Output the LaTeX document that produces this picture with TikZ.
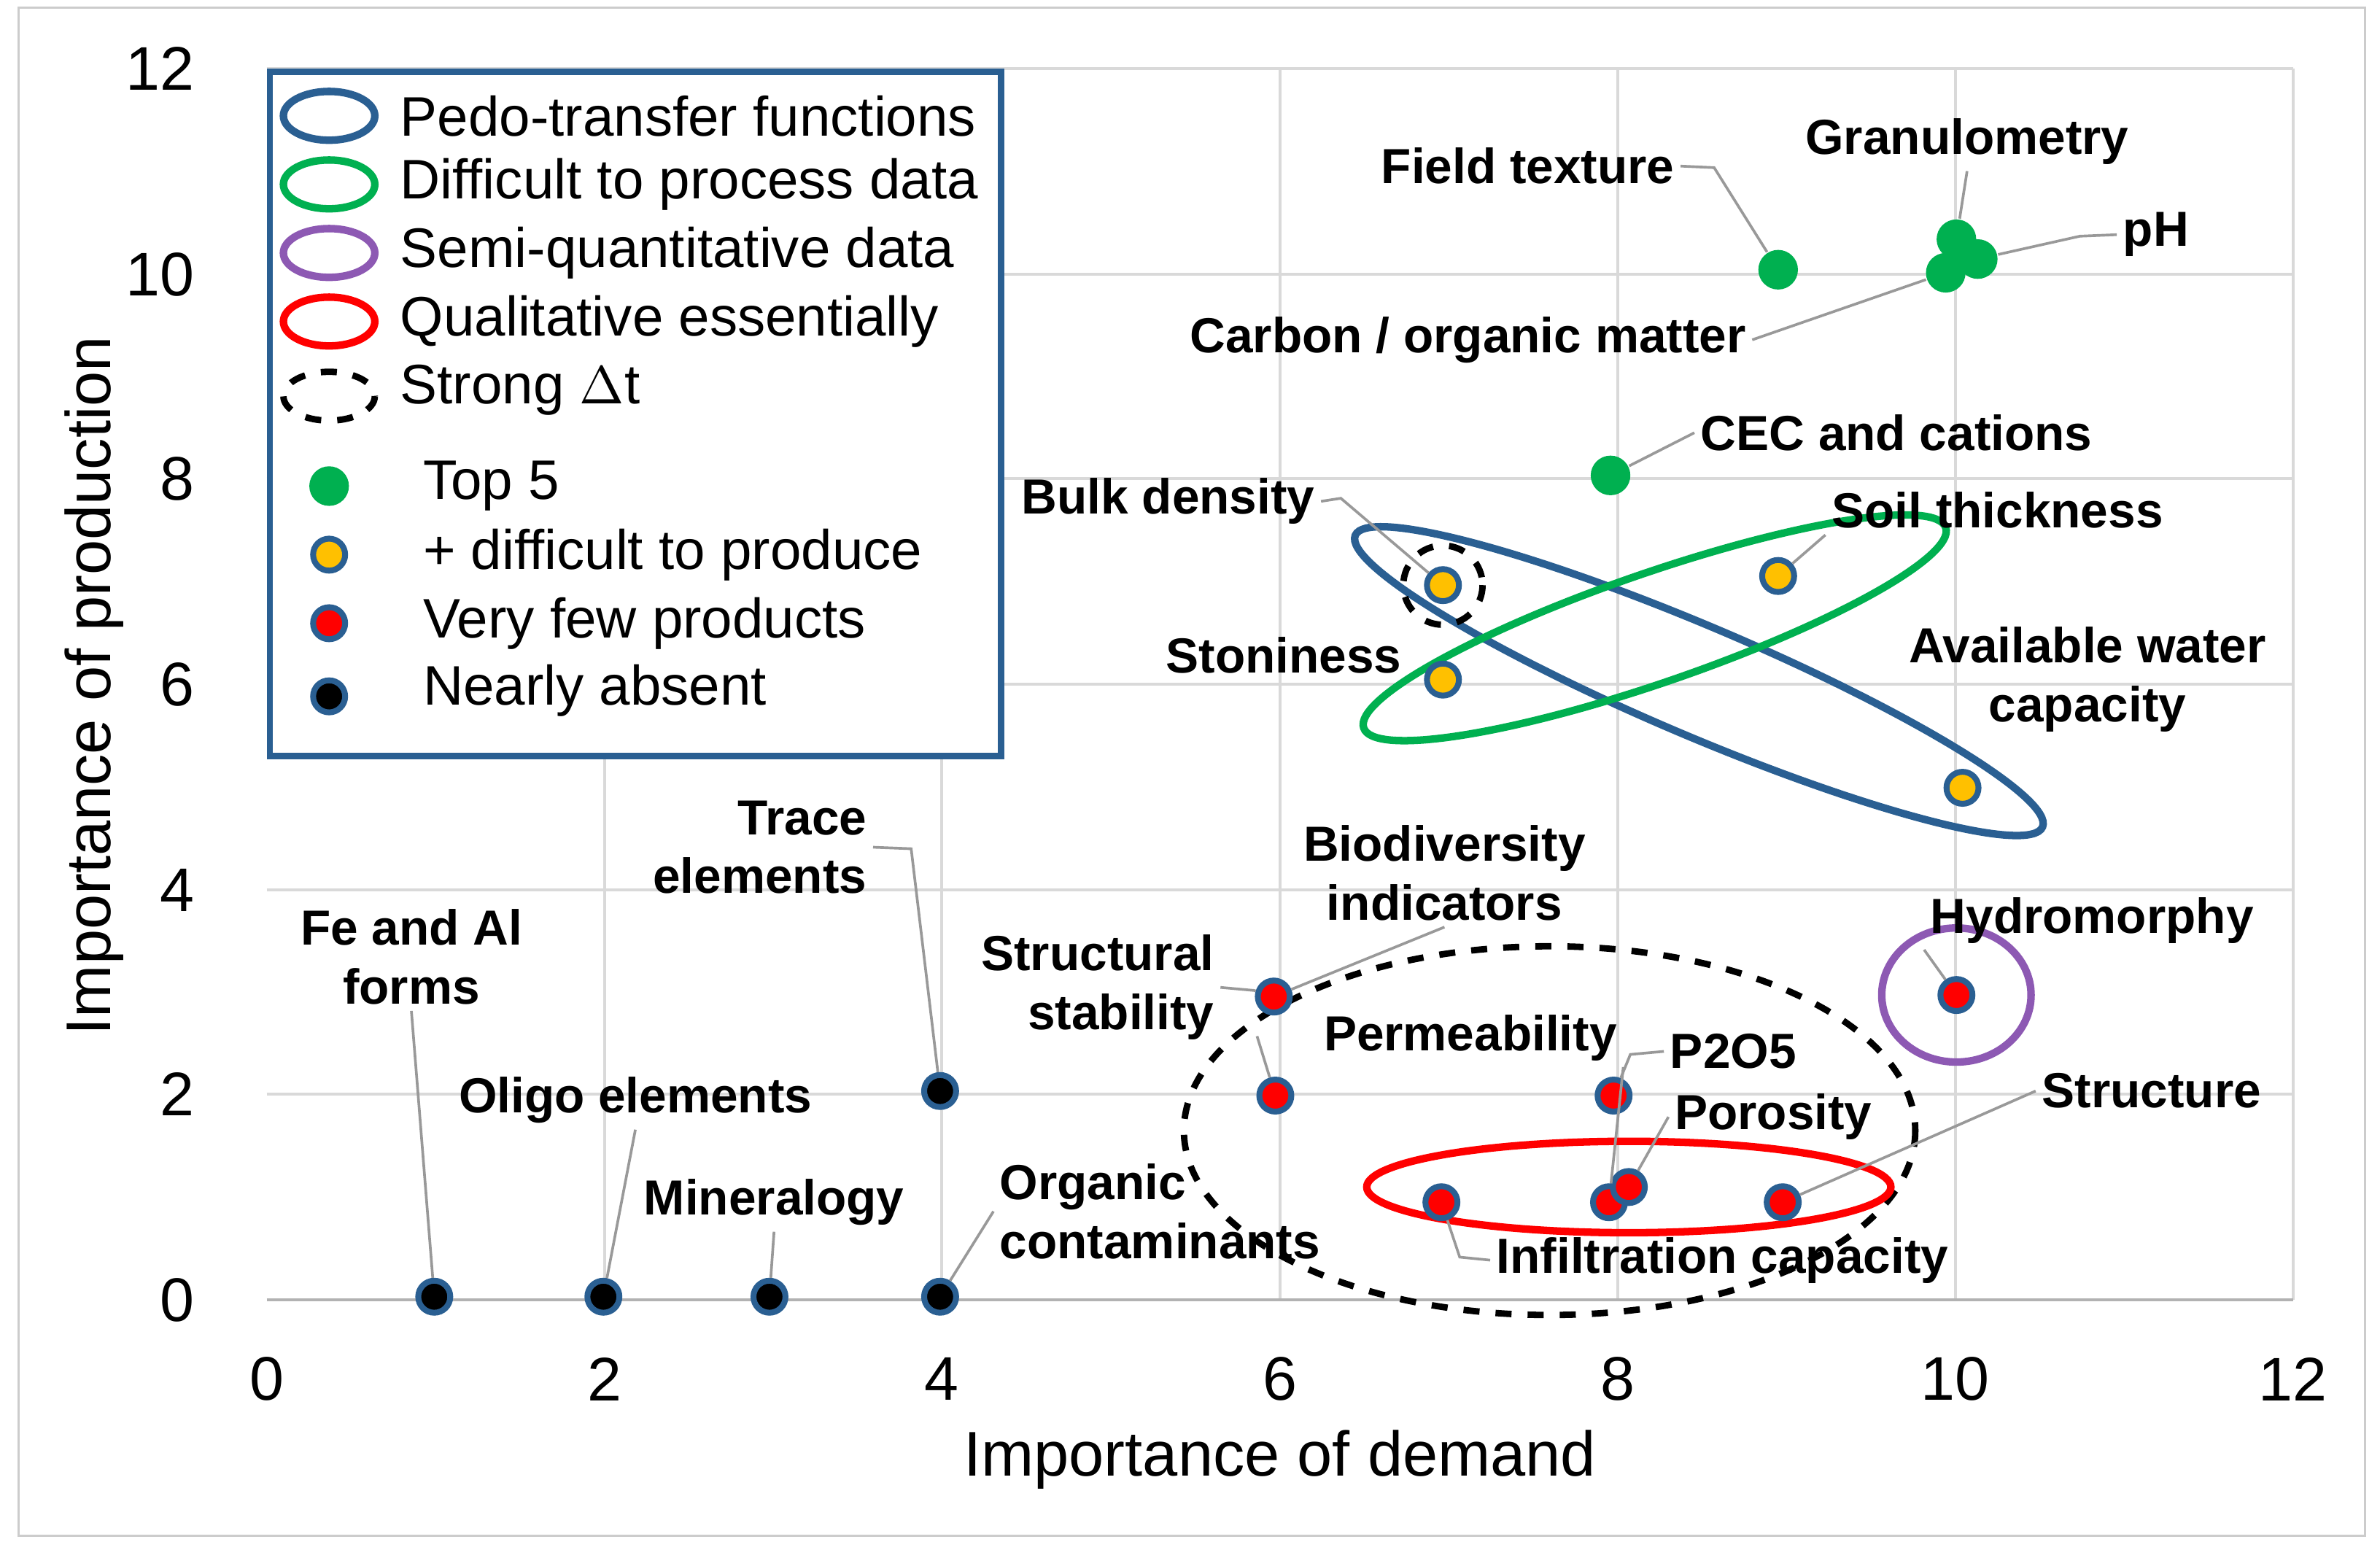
\documentclass[tikz,border=0pt]{standalone}
\usepackage{fontspec}
\setmainfont{Liberation Sans}
\definecolor{sblue}{HTML}{2A5F92}
\definecolor{dgreen}{HTML}{00B050}
\definecolor{dyel}{HTML}{FFC000}
\definecolor{dpur}{HTML}{7030A0}
\begin{document}
\begin{tikzpicture}[x=0.1mm,y=-0.1mm,
  grid/.style={draw=black!15,line width=0.5pt},
  lead/.style={draw=black!40,line width=0.5pt},
  lbl/.style={font=\fontsize{9.2}{11}\selectfont\bfseries,inner sep=1pt,align=center},
  tick/.style={font=\fontsize{11.5}{13}\selectfont},
  leg/.style={font=\fontsize{10.4}{12}\selectfont,anchor=west,inner sep=0pt},
  pt/.style={circle,minimum size=2.1mm,inner sep=0pt,draw=sblue,line width=1.1pt},
  blk/.style={pt,fill=black},
  red/.style={pt,fill=red},
  yel/.style={pt,fill=dyel},
  grn/.style={circle,minimum size=2.6mm,inner sep=0pt,fill=dgreen},
  ebl/.style={draw=sblue,line width=1.4pt},
  egr/.style={draw=dgreen,line width=1.4pt},
  epu/.style={draw=dpur!80,line width=1.4pt},
  ere/.style={draw=red,line width=1.4pt},
  eda/.style={draw=black,dashed,line width=1.2pt}]
\useasboundingbox (0,0) rectangle (1562,1017);
\draw[black!20] (12,5) rectangle (1552,1008);
% grid
\foreach \x in {397,618,840,1061.6,1283.3,1505} \draw[grid] (\x,45) -- (\x,853);
\foreach \y in {45,180,314,449,584,718} \draw[grid] (175,\y) -- (1505,\y);
\draw[black!30,line width=0.6pt] (175,853) -- (1505,853);
% ticks
\foreach \v/\x in {0/175,2/397,4/618,6/840,8/1061.6,10/1283.3,12/1505}
  \node[tick] (tx\v) at (\x,905) {\v};
\foreach \v/\y in {0/853,2/718,4/584,6/449,8/314,10/180,12/45}
  \node[tick,anchor=east] (ty\v) at (140,\y) {\v};
\node[font=\fontsize{11.8}{13}\selectfont] (xt) at (840,958) {Importance of demand};
\node[font=\fontsize{11.8}{13}\selectfont,rotate=90] (yt) at (62,450) {Importance of production};
% ellipses
\draw[ebl,rotate around={-23:(1115,447)}] (1115,447) ellipse (245 and 36);
\draw[egr,rotate around={19:(1086,412)}] (1086,412) ellipse (202 and 36);
\draw[eda] (1017,742) ellipse (240 and 121);
\draw[ere] (1069,779) ellipse (172 and 30);
\draw[epu] (1284,653) ellipse (49 and 44);
\draw[eda] (947,384) circle (26);
% points
\node[blk] (fe) at (285,851) {};
\node[blk] (ol) at (396,851) {};
\node[blk] (mi) at (505,851) {};
\node[blk] (oc) at (617,851) {};
\node[blk] (te) at (617,716) {};
\node[red] (bi) at (836,654) {};
\node[red] (ss) at (837,719) {};
\node[red] (p2) at (1059,719) {};
\node[red] (ic) at (946,789) {};
\node[red] (pe) at (1056,789) {};
\node[red] (po) at (1069,779) {};
\node[red] (st) at (1170,789) {};
\node[red] (hy) at (1284,653) {};
\node[yel] (bd) at (947,384) {};
\node[yel] (sn) at (947,446) {};
\node[yel] (sth) at (1167,378) {};
\node[yel] (aw) at (1288,517) {};
\node[grn] (ft) at (1167,177) {};
\node[grn] (ph) at (1298,170) {};
\node[grn] (gr) at (1284,157) {};
\node[grn] (co) at (1277,179) {};
\node[grn] (cec) at (1057,312) {};
% labels
\node[lbl,anchor=east] (lft) at (1103,109) {Field texture};
\node[lbl] (lgr) at (1291,93) {Granulometry};
\node[lbl] (lph) at (1415,154) {pH};
\node[lbl,anchor=east] (lco) at (1150,223) {Carbon / organic matter};
\node[lbl,anchor=west] (lcec) at (1112,284) {CEC and cations};
\node[lbl,anchor=east] (lbd) at (867,329) {Bulk density};
\node[lbl,anchor=west] (lsth) at (1198,335) {Soil thickness};
\node[lbl,anchor=east] (lsn) at (924,430) {Stoniness};
\node[lbl] (law) at (1370,446) {Available water\\capacity};
\node[lbl,align=right,anchor=east] (lte) at (573,556) {Trace\\elements};
\node[lbl] (lfe) at (270,628) {Fe and Al\\forms};
\node[lbl] (lol) at (417,722) {Oligo elements};
\node[lbl] (lmi) at (508,789) {Mineralogy};
\node[lbl,align=left,anchor=west] (loc) at (652,795) {Organic\\contaminants};
\node[lbl,align=right,anchor=east] (lss) at (801,648) {Structural\\stability};
\node[lbl] (lbi) at (948,573) {Biodiversity\\indicators};
\node[lbl] (lpe) at (965,681) {Permeability};
\node[lbl,anchor=west] (lp2) at (1092,690) {P2O5};
\node[lbl,anchor=west] (lpo) at (1095,733) {Porosity};
\node[lbl,anchor=west] (lst) at (1336,716) {Structure};
\node[lbl,anchor=west] (lic) at (978,827) {Infiltration capacity};
\node[lbl] (lhy) at (1373,604) {Hydromorphy};
% leaders
\coordinate (k1) at (1125,110);
\draw[lead] (lft.east) -- (k1) -- (ft);
\draw[lead] (lgr.south) -- (gr);
\coordinate (k2) at (1365,155);
\draw[lead] (lph.west) -- (k2) -- (ph);
\draw[lead] (lco.east) -- (co);
\draw[lead] (lcec.west) -- (cec);
\coordinate (k3) at (880,327);
\draw[lead] (lbd.east) -- (k3) -- (bd);
\draw[lead] (lsth.south west) -- (sth);
\coordinate (k4) at (598,557);
\draw[lead] (lte.east) -- (k4) -- (te);
\draw[lead] (lfe.south) -- (fe);
\draw[lead] (lol.south) -- (ol);
\draw[lead] (lmi.south) -- (mi);
\draw[lead] (loc.west) -- (oc);
\coordinate (k5) at (823,650);
\draw[lead] (lss.east) -- (k5) -- (bi);
\coordinate (k6) at (825,680);
\draw[lead] (k6) -- (ss);
\draw[lead] (lbi.south) -- (bi);
\draw[lead] (lpe.south east) -- (pe);
\coordinate (k7) at (1070,692);
\draw[lead] (lp2.west) -- (k7) -- (p2);
\draw[lead] (lpo.west) -- (po);
\draw[lead] (lst.west) -- (st);
\coordinate (k8) at (958,825);
\draw[lead] (lic.west) -- (k8) -- (ic);
\draw[lead] (lhy.south west) -- (hy);
% legend
\node[draw=sblue,line width=1.2pt,fill=white,minimum width=48mm,minimum height=44.9mm,anchor=north west,inner sep=0pt] (legbox) at (175,45) {};
\draw[ebl] (216,76) ellipse (30 and 16);
\draw[egr] (216,121) ellipse (30 and 16);
\draw[epu] (216,166) ellipse (30 and 16);
\draw[ere] (216,211) ellipse (30 and 16);
\draw[eda] (216,260) ellipse (30 and 16);
\node[leg] (l1) at (262,76) {Pedo-transfer functions};
\node[leg] (l2) at (262,121) {Difficult to process data};
\node[leg] (l3) at (262,166) {Semi-quantitative data};
\node[leg] (l4) at (262,211) {Qualitative essentially};
\node[leg] (l5) at (262,256) {Strong $\Delta$t};
\node[grn] (d1) at (216,319) {};
\node[yel] (d2) at (216,364) {};
\node[red] (d3) at (216,409) {};
\node[blk] (d4) at (216,457) {};
\node[leg] (l6) at (277,319) {Top 5};
\node[leg] (l7) at (277,364) {+ difficult to produce};
\node[leg] (l8) at (277,409) {Very few products};
\node[leg] (l9) at (277,453) {Nearly absent};
\end{tikzpicture}
\end{document}
